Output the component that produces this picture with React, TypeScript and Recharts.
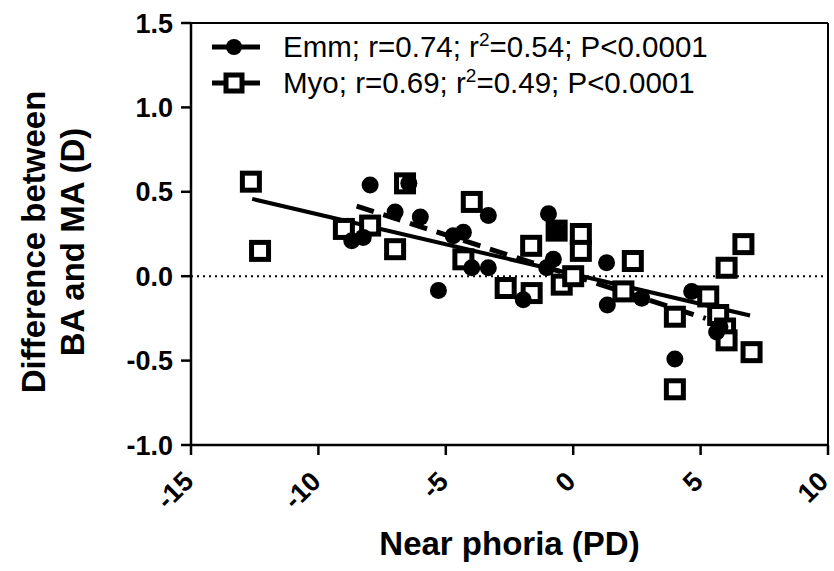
import React from 'react';
import { ScatterChart, Scatter, XAxis, YAxis, ReferenceLine } from 'recharts';

// values
const xTicks = [-15, -10, -5, 0, 5, 10];
const yTicks = [-1.0, -0.5, 0.0, 0.5, 1.0, 1.5];

const emmX = [-7.97, -6.45, -6.99, -6.0, -8.69, -8.24, -4.71, -4.31, -3.33, -5.29, -3.98, -3.33, -1.96, -0.97, -0.65, -0.78, -1.04, 1.31, 1.34, 2.69, 4.65, 3.99, 5.63, 5.76];
const emmY = [0.54, 0.55, 0.38, 0.35, 0.21, 0.23, 0.24, 0.26, 0.36, -0.085, 0.05, 0.05, -0.14, 0.37, 0.27, 0.10, 0.05, 0.08, -0.17, -0.13, -0.09, -0.49, -0.33, -0.30];

const myoX = [-12.65, -12.29, -9.0, -7.97, -6.99, -6.6, -3.98, -4.31, -2.65, -1.63, -1.65, -0.65, 0.3, 0.3, -0.45, 0.0, 2.34, 1.97, 5.3, 3.99, 3.99, 5.69, 5.96, 6.02, 7.0, 6.02, 6.68];
const myoY = [0.56, 0.15, 0.28, 0.30, 0.16, 0.55, 0.44, 0.10, -0.07, -0.10, 0.18, 0.27, 0.25, 0.15, -0.05, 0.0, 0.09, -0.09, -0.12, -0.24, -0.67, -0.23, -0.31, -0.38, -0.45, 0.05, 0.19];

const emmFitX = [-8.5, 5.2];
const emmFitY = [0.415, -0.25];
const myoFitX = [-12.6, 6.94];
const myoFitY = [0.458, -0.233];

const zip = (xs: number[], ys: number[]) => xs.map((x, i) => ({ x, y: ys[i] }));

const emmData = zip(emmX, emmY);
const myoData = zip(myoX, myoY);
const emmFit = zip(emmFitX, emmFitY);
const myoFit = zip(myoFitX, myoFitY);

const FONT = '"Liberation Sans", Arial, sans-serif';

const Dot = ({ cx, cy }: { cx?: number; cy?: number }) => <circle cx={cx} cy={cy} r={8.5} fill="#000" />;
const Box = ({ cx, cy }: { cx?: number; cy?: number }) => (
  <rect x={(cx ?? 0) - 8.5} y={(cy ?? 0) - 8.5} width={17} height={17} fill="#fff" stroke="#000" strokeWidth={5} />
);
const Nothing = () => <g />;

const XTick = ({ x, payload }: { x?: number; y?: number; payload?: { value: number } }) => {
  const ax = (x ?? 0) + 4;
  const ay = 483;
  return (
    <text
      x={ax}
      y={ay}
      transform={`rotate(-45, ${ax}, ${ay})`}
      textAnchor="end"
      fontFamily={FONT}
      fontWeight="bold"
      fontSize={27}
      fill="#000"
    >
      {payload?.value}
    </text>
  );
};

const YTick = ({ y, payload }: { x?: number; y?: number; payload?: { value: number } }) => (
  <text x={173} y={(y ?? 0) + 9.5} textAnchor="end" fontFamily={FONT} fontWeight="bold" fontSize={27} fill="#000">
    {payload?.value.toFixed(1)}
  </text>
);

const legendRows = [
  { key: 'emm', name: 'Emm', r: '0.74', r2: '0.54', p: 'P<0.0001' },
  { key: 'myo', name: 'Myo', r: '0.69', r2: '0.49', p: 'P<0.0001' },
];

export default function App() {
  return (
    <div style={{ position: 'absolute', left: 0, top: 0, width: 834, height: 571, background: '#fff' }}>
      <ScatterChart width={834} height={571} margin={{ top: 23, right: 6, bottom: 0, left: 0 }}>
        <XAxis
          type="number" dataKey="x" domain={[-15, 10]} ticks={xTicks} allowDataOverflow
          height={126} tickSize={10} stroke="#000" strokeWidth={2.5} tick={<XTick />}
        />
        <YAxis
          type="number" dataKey="y" domain={[-1, 1.5]} ticks={yTicks} allowDataOverflow
          width={191} tickSize={10} stroke="#000" strokeWidth={2.5} tick={<YTick />}
        />
        <ReferenceLine y={1.5} stroke="#000" strokeWidth={2} />
        <ReferenceLine x={10} stroke="#000" strokeWidth={2} />
        <ReferenceLine y={0} stroke="#000" strokeWidth={2} strokeDasharray="2 4" />
        <Scatter data={myoFit} line={{ stroke: '#000', strokeWidth: 4 }} shape={<Nothing />} isAnimationActive={false} />
        <Scatter data={emmFit} line={{ stroke: '#000', strokeWidth: 5, strokeDasharray: '18 10' }} shape={<Nothing />} isAnimationActive={false} />
        <Scatter data={myoData} shape={<Box />} isAnimationActive={false} />
        <Scatter data={emmData} shape={<Dot />} isAnimationActive={false} />
      </ScatterChart>

      {/* y axis title */}
      <svg width={120} height={571} style={{ position: 'absolute', left: 0, top: 0 }}>
        <text transform="translate(45,242) rotate(-90)" textAnchor="middle" fontFamily={FONT} fontWeight="bold" fontSize={33}>
          Difference between
        </text>
        <text transform="translate(84,242) rotate(-90)" textAnchor="middle" fontFamily={FONT} fontWeight="bold" fontSize={33}>
          BA and MA (D)
        </text>
      </svg>

      {/* x axis title */}
      <div style={{ position: 'absolute', left: 191, width: 637, top: 524, textAlign: 'center', fontFamily: FONT, fontWeight: 'bold', fontSize: 33, lineHeight: '40px' }}>
        Near phoria (PD)
      </div>

      {/* legend */}
      <div style={{ position: 'absolute', left: 210, top: 29, fontFamily: FONT, fontSize: 29.5 }}>
        {legendRows.map((row) => (
          <div key={row.key} style={{ display: 'flex', alignItems: 'center', height: 36 }}>
            <svg width={52} height={24} style={{ marginRight: 21 }}>
              <line x1={2} y1={12} x2={50} y2={12} stroke="#000" strokeWidth={5} />
              {row.key === 'emm'
                ? <circle cx={24} cy={12} r={8} fill="#000" />
                : <rect x={16} y={4} width={16} height={16} fill="#fff" stroke="#000" strokeWidth={5} />}
            </svg>
            <span style={{ whiteSpace: 'nowrap' }}>
              {row.name}; r={row.r}; r<sup style={{ fontSize: 19, lineHeight: 0 }}>2</sup>={row.r2}; {row.p}
            </span>
          </div>
        ))}
      </div>
    </div>
  );
}
